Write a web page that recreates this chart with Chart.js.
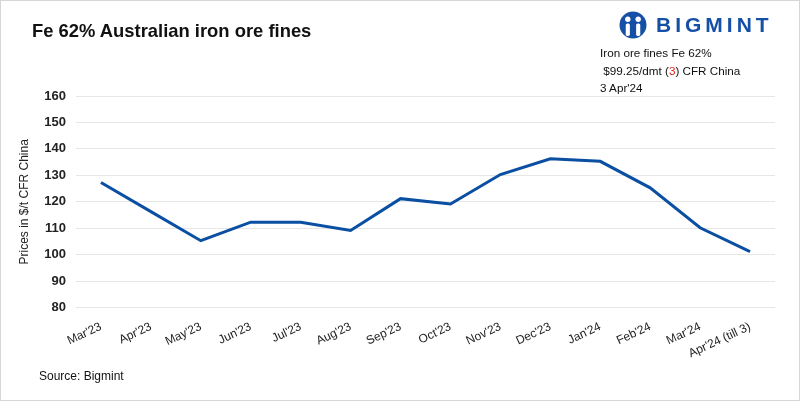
<!DOCTYPE html>
<html>
<head>
<meta charset="utf-8">
<script src="https://cdn.jsdelivr.net/npm/chart.js@4.4.1/dist/chart.umd.min.js"></script>
<style>
  body { margin: 0; background: #fff; font-family: Arial, "Liberation Sans", sans-serif; }
  #wrap { position: relative; width: 800px; height: 401px; box-sizing: border-box; border: 1px solid #d6d6d6; overflow: hidden; }
  #chart { position: absolute; left: -1px; top: -1px; }
  .title { position: absolute; left: 31px; top: 19px; font-size: 18.4px; font-weight: bold; color: #111; }
  .logo { position: absolute; left: 618px; top: 10px; display: flex; align-items: center; }
  .logo span { font-size: 21px; font-weight: bold; color: #1650a6; letter-spacing: 4px; margin-left: 9px; }
  .note { position: absolute; left: 599px; top: 43px; font-size: 11.7px; line-height: 17.5px; color: #111; }
  .note .red { color: #e0201b; }
  .source { position: absolute; left: 38px; top: 368px; font-size: 12px; color: #111; }
</style>
</head>
<body>
<div id="wrap">
  <canvas id="chart" width="800" height="401"></canvas>
  <div class="title">Fe 62% Australian iron ore fines</div>
  <div class="logo">
    <svg width="28" height="28" viewBox="0 0 27 27">
      <circle cx="13.5" cy="13.5" r="13" fill="#1650a6"/>
      <circle cx="8.5" cy="8" r="2.6" fill="#fff"/>
      <circle cx="18.5" cy="8" r="2.6" fill="#fff"/>
      <rect x="6.5" y="12" width="4" height="12" rx="1.5" fill="#fff"/>
      <rect x="16.5" y="12" width="4" height="12" rx="1.5" fill="#fff"/>
      <rect x="12" y="4" width="3" height="20" fill="#1650a6"/>
    </svg>
    <span>BIGMINT</span>
  </div>
  <div class="note">
    Iron ore fines Fe 62%<br>
    &nbsp;$99.25/dmt (<span class="red">3</span>) CFR China<br>
    3 Apr'24
  </div>
  <div class="source">Source: Bigmint</div>
</div>
<script>
const months = ["Mar'23", "Apr'23", "May'23", "Jun'23", "Jul'23", "Aug'23", "Sep'23",
  "Oct'23", "Nov'23", "Dec'23", "Jan'24", "Feb'24", "Mar'24", "Apr'24 (till 3)"];
const prices = [127.3, 116.3, 105.3, 112.3, 112.3, 109.2, 121.2,
  119.2, 130.3, 136.3, 135.3, 125.3, 110.2, 101.2];
const yTicks = [80, 90, 100, 110, 120, 130, 140, 150, 160];

const ctx = document.getElementById("chart").getContext("2d");
new Chart(ctx, {
  type: "line",
  data: {
    labels: months,
    datasets: [{
      data: prices,
      borderColor: "#0b4fa2",
      borderWidth: 3,
      pointRadius: 0,
      tension: 0,
      fill: false
    }]
  },
  options: {
    responsive: false,
    animation: false,
    layout: { padding: { left: 17, right: 25, top: 96, bottom: 36 } },
    plugins: { legend: { display: false }, tooltip: { enabled: false } },
    scales: {
      x: {
        offset: true,
        grid: { display: false },
        border: { display: false },
        ticks: {
          color: "#222",
          font: { family: "Arial, 'Liberation Sans', sans-serif", size: 12 },
          maxRotation: 25,
          minRotation: 25,
          autoSkip: false,
          padding: 4
        }
      },
      y: {
        min: yTicks[0],
        max: yTicks[yTicks.length - 1],
        afterBuildTicks: (scale) => { scale.ticks = yTicks.map(v => ({ value: v })); },
        afterFit: (scale) => { scale.width = 59; },
        grid: { color: "#e6e6e6", lineWidth: 1, drawTicks: false },
        border: { display: false },
        ticks: {
          color: "#222",
          padding: 10,
          font: { family: "Arial, 'Liberation Sans', sans-serif", size: 13, weight: "bold" }
        },
        title: {
          display: true,
          text: "Prices in $/t CFR China",
          color: "#222",
          font: { family: "Arial, 'Liberation Sans', sans-serif", size: 12 },
          padding: { top: 0, bottom: 4 }
        }
      }
    }
  }
});
</script>
</body>
</html>
